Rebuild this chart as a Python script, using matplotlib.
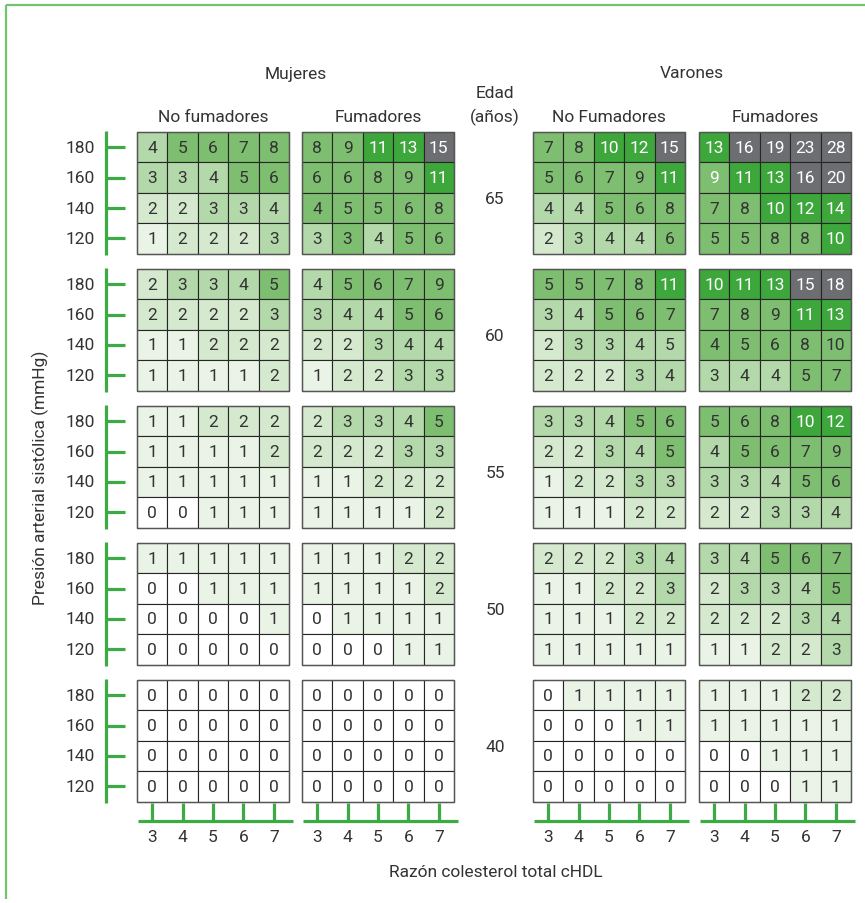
import matplotlib
matplotlib.use("Agg")
import matplotlib.pyplot as plt
from matplotlib.patches import Rectangle

plt.rcParams['font.family'] = ['Roboto', 'DejaVu Sans']

# --- data -------------------------------------------------------------
ages = [65, 60, 55, 50, 40]
sbp_levels = [180, 160, 140, 120]
chol_ratio = [3, 4, 5, 6, 7]
sex_labels = ["Mujeres", "Varones"]
smoke_labels = [["No fumadores", "Fumadores"], ["No Fumadores", "Fumadores"]]

# risk (%) per age -> rows = SBP 180..120, cols = ratio 3..7
mujeres_no_fum = [
    [[4, 5, 6, 7, 8], [3, 3, 4, 5, 6], [2, 2, 3, 3, 4], [1, 2, 2, 2, 3]],
    [[2, 3, 3, 4, 5], [2, 2, 2, 2, 3], [1, 1, 2, 2, 2], [1, 1, 1, 1, 2]],
    [[1, 1, 2, 2, 2], [1, 1, 1, 1, 2], [1, 1, 1, 1, 1], [0, 0, 1, 1, 1]],
    [[1, 1, 1, 1, 1], [0, 0, 1, 1, 1], [0, 0, 0, 0, 1], [0, 0, 0, 0, 0]],
    [[0, 0, 0, 0, 0], [0, 0, 0, 0, 0], [0, 0, 0, 0, 0], [0, 0, 0, 0, 0]],
]
mujeres_fum = [
    [[8, 9, 11, 13, 15], [6, 6, 8, 9, 11], [4, 5, 5, 6, 8], [3, 3, 4, 5, 6]],
    [[4, 5, 6, 7, 9], [3, 4, 4, 5, 6], [2, 2, 3, 4, 4], [1, 2, 2, 3, 3]],
    [[2, 3, 3, 4, 5], [2, 2, 2, 3, 3], [1, 1, 2, 2, 2], [1, 1, 1, 1, 2]],
    [[1, 1, 1, 2, 2], [1, 1, 1, 1, 2], [0, 1, 1, 1, 1], [0, 0, 0, 1, 1]],
    [[0, 0, 0, 0, 0], [0, 0, 0, 0, 0], [0, 0, 0, 0, 0], [0, 0, 0, 0, 0]],
]
varones_no_fum = [
    [[7, 8, 10, 12, 15], [5, 6, 7, 9, 11], [4, 4, 5, 6, 8], [2, 3, 4, 4, 6]],
    [[5, 5, 7, 8, 11], [3, 4, 5, 6, 7], [2, 3, 3, 4, 5], [2, 2, 2, 3, 4]],
    [[3, 3, 4, 5, 6], [2, 2, 3, 4, 5], [1, 2, 2, 3, 3], [1, 1, 1, 2, 2]],
    [[2, 2, 2, 3, 4], [1, 1, 2, 2, 3], [1, 1, 1, 2, 2], [1, 1, 1, 1, 1]],
    [[0, 1, 1, 1, 1], [0, 0, 0, 1, 1], [0, 0, 0, 0, 0], [0, 0, 0, 0, 0]],
]
varones_fum = [
    [[13, 16, 19, 23, 28], [9, 11, 13, 16, 20], [7, 8, 10, 12, 14], [5, 5, 8, 8, 10]],
    [[10, 11, 13, 15, 18], [7, 8, 9, 11, 13], [4, 5, 6, 8, 10], [3, 4, 4, 5, 7]],
    [[5, 6, 8, 10, 12], [4, 5, 6, 7, 9], [3, 3, 4, 5, 6], [2, 2, 3, 3, 4]],
    [[3, 4, 5, 6, 7], [2, 3, 3, 4, 5], [2, 2, 2, 3, 4], [1, 1, 2, 2, 3]],
    [[1, 1, 1, 2, 2], [1, 1, 1, 1, 1], [0, 0, 1, 1, 1], [0, 0, 0, 1, 1]],
]
groups = [mujeres_no_fum, mujeres_fum, varones_no_fum, varones_fum]

# --- style ------------------------------------------------------------
TXT = "#333333"
AXIS_GREEN = "#3dab45"
FRAME_GREEN = "#72c46e"
GRID = "#262626"
level_colors = ["#ffffff", "#eaf4e6", "#d4e9cd", "#b3d8a9", "#7ebe70", "#3da73c", "#6d6e71"]
level_bounds = [0, 1, 2, 3, 5, 10, 15]  # lower bound of each level


def level_of(v):
    lvl = 0
    for i, b in enumerate(level_bounds):
        if v >= b:
            lvl = i
    return lvl


# shading in the source that does not follow the value bands
# (group, age idx, row, col) -> level
level_override = {
    (1, 0, 2, 0): 4, (1, 0, 3, 1): 4,
    (2, 1, 2, 4): 3,
    (3, 1, 2, 0): 4, (3, 1, 2, 4): 4,
    (3, 0, 1, 0): 4,
}
white_text_override = {(3, 0, 1, 0)}
dark_text_override = {(3, 1, 2, 4)}

W, H = 865, 904
cell = 30.4
group_x0 = [137, 302, 533, 699]
panel_y0 = 133
panel_step = 137
fs = 12.5
fw = "normal"

fig = plt.figure(figsize=(W / 100, H / 100), dpi=100)
ax = fig.add_axes([0, 0, 1, 1])
ax.set_xlim(0, W)
ax.set_ylim(H, 0)
ax.axis("off")

# outer frame (top + left)
ax.plot([6, W], [6, 6], color=FRAME_GREEN, lw=1.6, solid_capstyle="butt")
ax.plot([6, 6], [6, 900], color=FRAME_GREEN, lw=1.6, solid_capstyle="butt")

for g, data in enumerate(groups):
    x0 = group_x0[g]
    for a, age in enumerate(ages):
        y0 = panel_y0 + a * panel_step
        for r in range(len(sbp_levels)):
            for c in range(len(chol_ratio)):
                v = data[a][r][c]
                key = (g, a, r, c)
                lvl = level_override.get(key, level_of(v))
                ax.add_patch(Rectangle((x0 + c * cell, y0 + r * cell), cell, cell,
                                       facecolor=level_colors[lvl], edgecolor=GRID, lw=0.8))
                white = lvl >= 5 or key in white_text_override
                if key in dark_text_override:
                    white = False
                ax.text(x0 + (c + 0.5) * cell, y0 + (r + 0.5) * cell, str(v),
                        ha="center", va="center", fontsize=fs, fontweight=fw,
                        color="white" if white else TXT)
        # outer border
        ax.add_patch(Rectangle((x0, y0), 5 * cell, 4 * cell, fill=False,
                               edgecolor="#555555", lw=1.0))

# left axis per age block
for a, age in enumerate(ages):
    y0 = panel_y0 + a * panel_step
    ax.plot([106, 106], [y0 - 1, y0 + 4 * cell + 1], color=AXIS_GREEN, lw=2.3,
            solid_capstyle="butt")
    for r, s in enumerate(sbp_levels):
        yc = y0 + (r + 0.5) * cell
        ax.plot([106, 125], [yc, yc], color=AXIS_GREEN, lw=2.3, solid_capstyle="butt")
        ax.text(95, yc, str(s), ha="right", va="center", fontsize=fs,
                fontweight=fw, color=TXT)
    ax.text(495, y0 + 2 * cell + 6, str(age), ha="center", va="center",
            fontsize=fs, fontweight=fw, color=TXT)

# bottom axis per group
for g in range(4):
    x0 = group_x0[g]
    ax.plot([x0 + 1, x0 + 5 * cell + 4], [822, 822], color=AXIS_GREEN, lw=2.3,
            solid_capstyle="butt")
    for c, ratio in enumerate(chol_ratio):
        xc = x0 + (c + 0.5) * cell
        ax.plot([xc, xc], [804, 822], color=AXIS_GREEN, lw=2.3, solid_capstyle="butt")
        ax.text(xc, 838, str(ratio), ha="center", va="center", fontsize=fs,
                fontweight=fw, color=TXT)

# headers
for s, sex in enumerate(sex_labels):
    xa = group_x0[2 * s]
    xb = group_x0[2 * s + 1] + 5 * cell
    ax.text((xa + xb) / 2, 74, sex, ha="center", va="center", fontsize=fs,
            fontweight=fw, color=TXT)
    for k in range(2):
        xg = group_x0[2 * s + k] + 2.5 * cell
        ax.text(xg, 117, smoke_labels[s][k], ha="center", va="center", fontsize=fs,
                fontweight=fw, color=TXT)

ax.text(495, 93, "Edad", ha="center", va="center", fontsize=fs, fontweight=fw, color=TXT)
ax.text(495, 117, "(años)", ha="center", va="center", fontsize=fs, fontweight=fw, color=TXT)

ax.text(40, 478, "Presión arterial sistólica (mmHg)", rotation=90, ha="center",
        va="center", fontsize=fs, fontweight=fw, color=TXT)
ax.text(496, 873, "Razón colesterol total cHDL", ha="center", va="center",
        fontsize=fs, fontweight=fw, color=TXT)

fig.savefig("out.png", dpi=100, facecolor="white")
